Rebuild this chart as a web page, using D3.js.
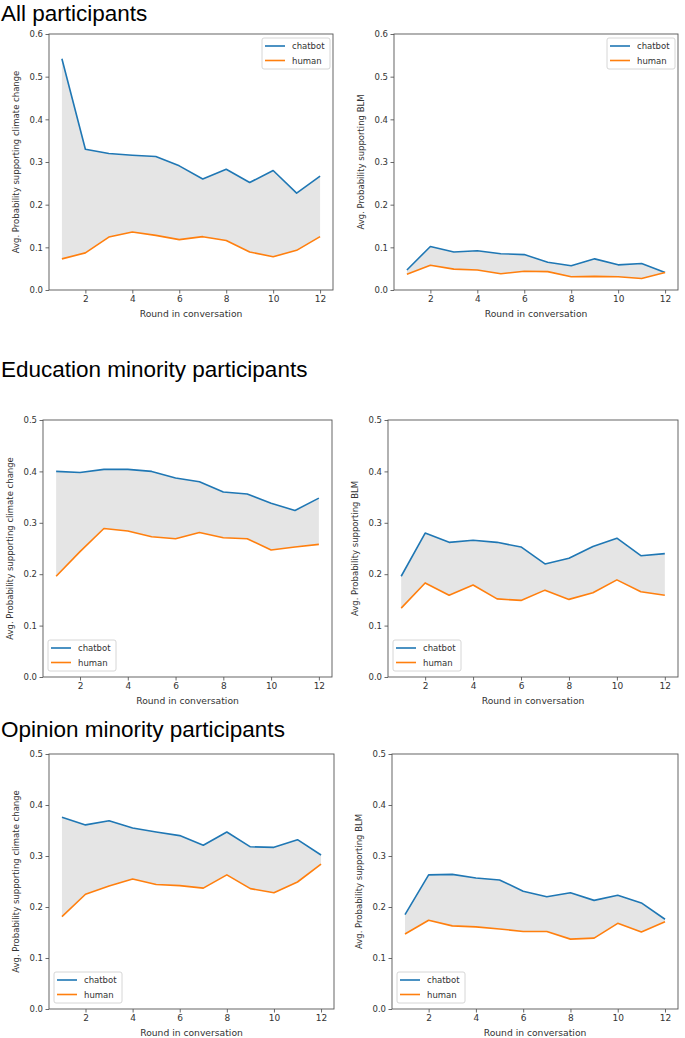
<!DOCTYPE html>
<html>
<head>
<meta charset="utf-8">
<script src="https://cdn.jsdelivr.net/npm/d3@7"></script>
<style>
  body { margin: 0; background: #fff; }
  .title { font-family: "Liberation Sans", Arial, sans-serif; font-size: 22.5px; fill: #000; }
  .tick text, .lbl, .leg { font-family: "DejaVu Sans", sans-serif; font-size: 8.5px; fill: #333; }
  .xlbl { font-size: 9.2px; }
</style>
</head>
<body>
<svg id="chart" width="685" height="1038"></svg>
<script>
// rounds on the x axis
const rounds = [1, 2, 3, 4, 5, 6, 7, 8, 9, 10, 11, 12];
const xTicks = [2, 4, 6, 8, 10, 12];

// All participants
const allClimateChatbot = [0.542, 0.330, 0.320, 0.316, 0.313, 0.291, 0.260, 0.283, 0.252, 0.280, 0.227, 0.267];
const allClimateHuman   = [0.073, 0.087, 0.124, 0.136, 0.128, 0.118, 0.125, 0.116, 0.089, 0.078, 0.093, 0.125];
const allBlmChatbot     = [0.047, 0.102, 0.089, 0.092, 0.085, 0.083, 0.065, 0.057, 0.073, 0.059, 0.062, 0.041];
const allBlmHuman       = [0.037, 0.058, 0.049, 0.047, 0.038, 0.044, 0.043, 0.031, 0.032, 0.031, 0.027, 0.041];

// Education minority participants
const eduClimateChatbot = [0.400, 0.398, 0.404, 0.404, 0.400, 0.387, 0.380, 0.360, 0.356, 0.338, 0.324, 0.348];
const eduClimateHuman   = [0.196, 0.244, 0.289, 0.284, 0.273, 0.269, 0.281, 0.271, 0.269, 0.247, 0.253, 0.258];
const eduBlmChatbot     = [0.196, 0.280, 0.262, 0.266, 0.262, 0.253, 0.220, 0.231, 0.254, 0.270, 0.236, 0.240];
const eduBlmHuman       = [0.134, 0.183, 0.159, 0.179, 0.152, 0.149, 0.169, 0.151, 0.164, 0.189, 0.166, 0.159];

// Opinion minority participants
const opClimateChatbot  = [0.376, 0.361, 0.369, 0.355, 0.347, 0.340, 0.321, 0.347, 0.318, 0.317, 0.332, 0.302];
const opClimateHuman    = [0.181, 0.225, 0.241, 0.255, 0.244, 0.242, 0.237, 0.263, 0.236, 0.228, 0.249, 0.284];
const opBlmChatbot      = [0.185, 0.263, 0.264, 0.257, 0.253, 0.231, 0.220, 0.228, 0.213, 0.223, 0.208, 0.176];
const opBlmHuman        = [0.147, 0.174, 0.163, 0.161, 0.157, 0.152, 0.152, 0.137, 0.139, 0.168, 0.151, 0.171];

const titles = [
  { text: "All participants", y: 20.5 },
  { text: "Education minority participants", y: 377 },
  { text: "Opinion minority participants", y: 737 }
];

const climateLabel = "Avg. Probability supporting climate change";
const blmLabel = "Avg. Probability supporting BLM";
const seriesNames = ["chatbot", "human"];
const colors = { chatbot: "#1f77b4", human: "#ff7f0e" };

const panels = [
  { left: 49, right: 333, top: 34, bottom: 290, yMax: 0.6, chatbot: allClimateChatbot, human: allClimateHuman, ylabel: climateLabel, legend: "tr" },
  { left: 394, right: 678, top: 34, bottom: 290, yMax: 0.6, chatbot: allBlmChatbot, human: allBlmHuman, ylabel: blmLabel, legend: "tr" },
  { left: 43, right: 332, top: 420, bottom: 677, yMax: 0.5, chatbot: eduClimateChatbot, human: eduClimateHuman, ylabel: climateLabel, legend: "bl" },
  { left: 388, right: 678, top: 420, bottom: 677, yMax: 0.5, chatbot: eduBlmChatbot, human: eduBlmHuman, ylabel: blmLabel, legend: "bl" },
  { left: 49, right: 334, top: 754, bottom: 1009, yMax: 0.5, chatbot: opClimateChatbot, human: opClimateHuman, ylabel: climateLabel, legend: "bl" },
  { left: 392, right: 678, top: 754, bottom: 1009, yMax: 0.5, chatbot: opBlmChatbot, human: opBlmHuman, ylabel: blmLabel, legend: "bl" }
];

const svg = d3.select("#chart");

// section titles
svg.selectAll(".title")
  .data(titles)
  .enter()
  .append("text")
  .attr("class", "title")
  .attr("x", 1)
  .attr("y", d => d.y)
  .text(d => d.text);

panels.forEach(p => {
  const g = svg.append("g");

  // matplotlib-ish 5% margins on x
  const x = d3.scaleLinear().domain([0.45, 12.55]).range([p.left, p.right]);
  const y = d3.scaleLinear().domain([0, p.yMax]).range([p.bottom, p.top]);

  const rows = rounds.map((r, i) => ({ r: r, c: p.chatbot[i], h: p.human[i] }));

  // shaded band between the two curves
  g.append("path")
    .datum(rows)
    .attr("fill", "#e5e5e5")
    .attr("d", d3.area().x(d => x(d.r)).y0(d => y(d.h)).y1(d => y(d.c)));

  // lines
  seriesNames.forEach(name => {
    g.append("path")
      .datum(rows)
      .attr("fill", "none")
      .attr("stroke", colors[name])
      .attr("stroke-width", 1.6)
      .attr("stroke-linejoin", "round")
      .attr("d", d3.line().x(d => x(d.r)).y(d => y(name === "chatbot" ? d.c : d.h)));
  });

  // axes
  const xAxis = g.append("g")
    .attr("transform", `translate(0,${p.bottom})`)
    .call(d3.axisBottom(x).tickValues(xTicks).tickSize(3.5).tickPadding(2.5).tickSizeOuter(0));
  const yAxis = g.append("g")
    .attr("transform", `translate(${p.left},0)`)
    .call(d3.axisLeft(y).ticks(p.yMax * 10).tickFormat(d3.format(".1f")).tickSize(3.5).tickPadding(2.5).tickSizeOuter(0));
  [xAxis, yAxis].forEach(a => {
    a.select(".domain").remove();
    a.selectAll(".tick line").attr("stroke", "#444").attr("stroke-width", 0.8);
  });
  xAxis.selectAll(".tick text").style("font-size", "9px");

  // frame
  g.append("rect")
    .attr("x", p.left)
    .attr("y", p.top)
    .attr("width", p.right - p.left)
    .attr("height", p.bottom - p.top)
    .attr("fill", "none")
    .attr("stroke", "#555")
    .attr("stroke-width", 0.9);

  // axis labels
  g.append("text")
    .attr("class", "lbl xlbl")
    .attr("x", (p.left + p.right) / 2)
    .attr("y", p.bottom + 27)
    .attr("text-anchor", "middle")
    .text("Round in conversation");
  g.append("text")
    .attr("class", "lbl")
    .attr("transform", `translate(${p.left - 30},${(p.top + p.bottom) / 2}) rotate(-90)`)
    .attr("text-anchor", "middle")
    .text(p.ylabel);

  // legend
  const lw = 68, lh = 31;
  const lx = p.legend === "tr" ? p.right - lw - 3 : p.left + 5;
  const ly = p.legend === "tr" ? p.top + 4 : p.bottom - lh - 6;
  const leg = g.append("g").attr("transform", `translate(${lx},${ly})`);
  leg.append("rect")
    .attr("width", lw).attr("height", lh)
    .attr("rx", 2)
    .attr("fill", "#fff").attr("fill-opacity", 0.85)
    .attr("stroke", "#ccc").attr("stroke-width", 0.8);
  seriesNames.forEach((name, i) => {
    const yy = 8 + i * 14.5;
    leg.append("line")
      .attr("x1", 3).attr("x2", 23).attr("y1", yy).attr("y2", yy)
      .attr("stroke", colors[name]).attr("stroke-width", 1.6);
    leg.append("text")
      .attr("class", "leg")
      .attr("x", 30).attr("y", yy + 3)
      .text(name);
  });
});
</script>
</body>
</html>
